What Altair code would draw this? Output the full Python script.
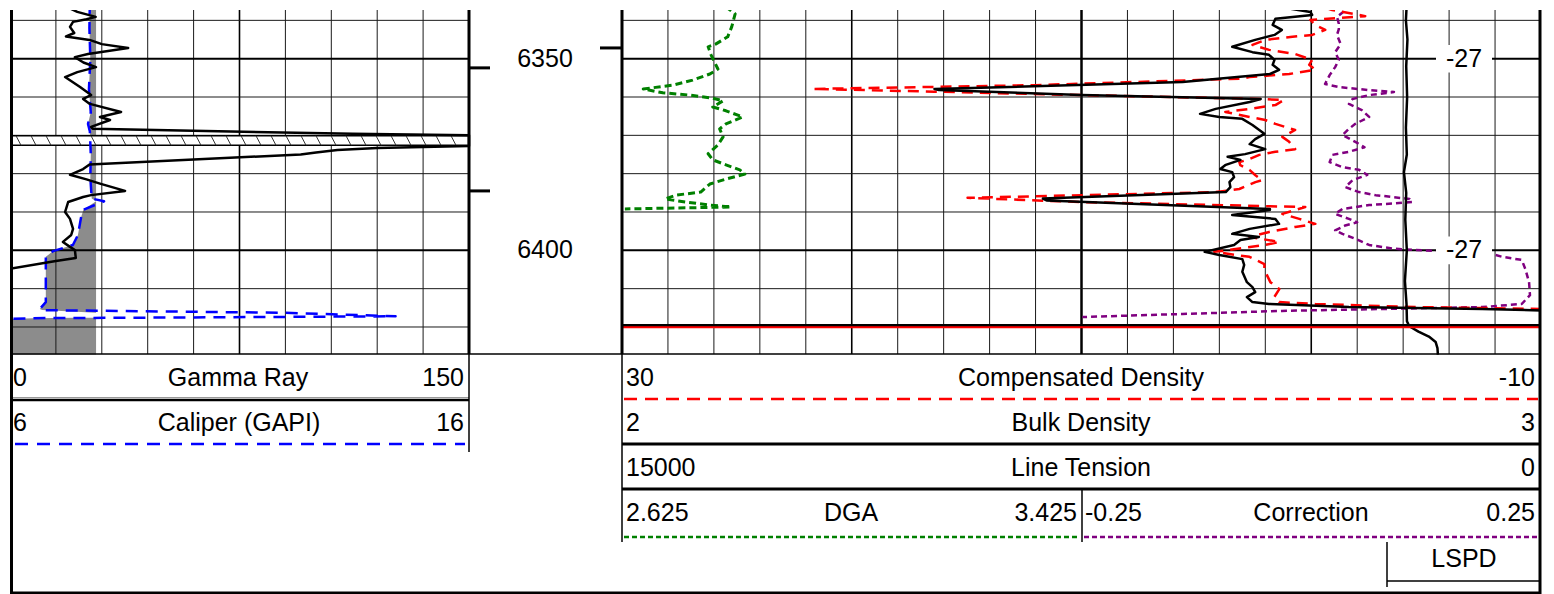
import altair as alt
import pandas as pd

# ---------------- curve data (depth in ft, value in curve units) ----------------
GR_DEPTH = [6335.2, 6336.5, 6337.8, 6339.1, 6339.7, 6340.4, 6341.7, 6343.3, 6344.2, 6345.1,
            6346.2, 6347.2, 6348.8, 6349.6, 6351.0, 6352.2, 6353.5, 6354.8, 6357.4, 6359.5,
            6360.5, 6361.8, 6363.9, 6365.2, 6366.0, 6367.8, 6368.3, 6369.6, 6370.0, 6372.8,
            6373.3, 6373.8, 6374.5, 6375.0, 6377.6, 6378.8, 6380.3, 6381.5, 6382.6, 6384.5,
            6385.6, 6386.1, 6387.4, 6390.0, 6391.8, 6394.4, 6396.0, 6397.8, 6399.1, 6399.9,
            6402.0, 6402.8, 6404.9]
GR_VALUE = [20.0, 18.6, 22.0, 28.0, 25.0, 20.6, 19.6, 21.0, 18.3, 26.0,
            30.0, 38.6, 25.5, 21.2, 24.0, 28.1, 22.0, 18.0, 22.9, 26.5,
            23.9, 26.1, 36.3, 29.4, 32.7, 26.5, 27.0, 112.0, 150.0, 150.0,
            120.0, 107.0, 100.0, 95.0, 26.0, 23.9, 19.6, 25.0, 29.4, 37.6,
            26.5, 23.9, 19.0, 18.0, 19.6, 20.6, 20.0, 17.3, 19.6, 21.2,
            21.5, 15.0, -0.5]

CAL_DEPTH = [6335.2, 6342.0, 6350.0, 6358.0, 6364.0, 6367.0, 6369.0, 6375.0, 6381.0, 6386.5,
             6387.2, 6389.4, 6391.3, 6396.0, 6398.6, 6400.2, 6401.7, 6413.5, 6415.3, 6415.6,
             6416.3, 6417.2, 6417.5, 6417.7, 6417.9, 6427.2]
CAL_VALUE = [7.74, 7.73, 7.75, 7.72, 7.76, 7.70, 7.74, 7.76, 7.75, 7.78,
             8.05, 7.60, 7.55, 7.48, 7.37, 6.94, 6.78, 6.78, 6.65, 6.70,
             12.0, 14.4, 10.0, 6.5, 5.9, 5.9]
BIT_SIZE = 7.875

RHOB_DEPTH = [6335.2, 6336.5, 6337.8, 6338.6, 6339.6, 6341.2, 6342.5, 6343.8, 6345.1, 6346.9,
              6348.3, 6349.0, 6350.3, 6351.6, 6352.9, 6354.0, 6356.1, 6357.9, 6358.2, 6359.5,
              6360.5, 6361.3, 6363.1, 6364.4, 6365.2, 6365.7, 6367.3, 6369.6, 6371.0, 6372.3,
              6373.6, 6374.9, 6375.6, 6376.4, 6377.7, 6378.8, 6379.6, 6380.9, 6382.2, 6383.5,
              6384.8, 6386.5, 6387.0, 6389.2, 6389.5, 6390.8, 6391.8, 6393.1, 6394.4, 6395.7,
              6396.5, 6397.3, 6398.6, 6400.4, 6401.2, 6402.3, 6403.8, 6405.6, 6408.3, 6409.6,
              6410.9, 6412.2, 6413.5, 6414.0, 6414.8, 6415.3, 6415.8]
RHOB_VALUE = [2.710, 2.715, 2.749, 2.751, 2.711, 2.708, 2.718, 2.710, 2.689, 2.664,
              2.686, 2.704, 2.710, 2.708, 2.715, 2.705, 2.610, 2.340, 2.345, 2.500,
              2.695, 2.683, 2.646, 2.629, 2.650, 2.675, 2.686, 2.699, 2.689, 2.683,
              2.700, 2.678, 2.659, 2.673, 2.657, 2.651, 2.664, 2.666, 2.661, 2.662,
              2.657, 2.458, 2.462, 2.705, 2.705, 2.664, 2.711, 2.715, 2.683, 2.664,
              2.693, 2.673, 2.666, 2.634, 2.650, 2.675, 2.677, 2.675, 2.680, 2.686,
              2.689, 2.680, 2.686, 2.704, 2.791, 2.936, 3.020]

CDEN_DEPTH = [6335.2, 6337.3, 6338.9, 6339.9, 6341.2, 6342.5, 6343.8, 6344.3, 6345.1, 6346.4,
              6347.7, 6348.8, 6350.3, 6351.6, 6352.9, 6354.0, 6354.8, 6355.2, 6356.9, 6357.9,
              6358.6, 6359.5, 6360.5, 6360.8, 6362.1, 6363.1, 6363.9, 6365.2, 6366.0, 6367.0,
              6368.6, 6370.4, 6371.7, 6373.6, 6374.3, 6375.1, 6376.2, 6377.0, 6377.8, 6379.0,
              6380.4, 6381.7, 6382.2, 6384.0, 6384.8, 6386.3, 6387.4, 6388.7, 6390.5, 6391.8,
              6393.1, 6393.9, 6395.2, 6396.5, 6397.8, 6398.6, 6400.4, 6401.7, 6403.6, 6405.1,
              6408.3, 6410.1, 6412.2, 6413.5, 6414.0, 6414.8, 6415.3]
CDEN_VALUE = [0.17, -0.91, -2.35, 0.04, -0.18, -0.61, -0.04, 0.82, 2.00, 2.56,
              1.83, 0.70, -0.04, 0.09, -0.18, 0.96, 2.69, 3.00, 12.0, 21.7,
              16.4, 10.0, 2.22, 1.20, 1.56, 2.69, 3.74, 2.69, 2.00, 1.56,
              0.70, 1.26, 0.96, 0.70, 1.56, 2.26, 2.69, 3.13, 3.09, 2.69,
              2.43, 2.13, 2.43, 3.13, 4.17, 14.96, 10.04, 0.26, 1.26, 0.52,
              -0.18, 0.70, 1.83, 2.69, 1.39, 2.00, 4.22, 2.69, 2.04, 2.04,
              1.78, 1.39, 1.61, 1.39, -0.18, -4.52, -10.2]

TENS_DEPTH = [6335.2, 6340.0, 6345.0, 6352.0, 6360.0, 6368.0, 6375.0, 6379.6, 6385.0, 6392.0,
              6400.0, 6408.0, 6414.0, 6418.5, 6419.8, 6421.2, 6422.5, 6423.9, 6425.5, 6427.2]
TENS_VALUE = [2190, 2205, 2180, 2200, 2185, 2205, 2190, 2237, 2200, 2215,
              2190, 2221, 2195, 2188, 2150, 2000, 1830, 1720, 1690, 1683]

DGA_DEPTH = [6335.2, 6336.5, 6338.3, 6341.7, 6344.3, 6346.2, 6346.9, 6349.0, 6352.7, 6354.0,
             6355.6, 6356.9, 6357.9, 6358.9, 6359.5, 6360.3, 6361.0, 6362.6, 6363.6, 6365.2,
             6367.0, 6368.3, 6370.4, 6372.5, 6374.8, 6376.4, 6377.7, 6379.0, 6380.1, 6381.4,
             6382.7, 6384.8, 6385.6, 6386.6, 6387.4, 6388.2, 6388.7, 6389.2]
DGA_VALUE = [2.788, 2.806, 2.822, 2.816, 2.809, 2.788, 2.775, 2.780, 2.792, 2.778,
             2.748, 2.714, 2.662, 2.696, 2.743, 2.783, 2.801, 2.783, 2.806, 2.835,
             2.806, 2.795, 2.801, 2.792, 2.775, 2.783, 2.806, 2.830, 2.839, 2.806,
             2.778, 2.762, 2.719, 2.700, 2.736, 2.778, 2.815, 2.630]

CORR_DEPTH = [6335.2, 6337.0, 6339.1, 6340.9, 6342.3, 6343.8, 6346.2, 6348.3, 6350.3, 6352.2,
              6354.3, 6356.6, 6357.4, 6358.2, 6358.7, 6359.5, 6360.5, 6361.8, 6363.4, 6365.2,
              6367.0, 6368.3, 6369.9, 6371.7, 6373.1, 6374.3, 6375.1, 6377.0, 6378.3, 6379.0,
              6380.3, 6381.7, 6383.5, 6384.8, 6385.6, 6386.6, 6387.4, 6388.2, 6389.2, 6390.5,
              6391.8, 6392.7, 6393.5, 6394.8, 6395.7, 6397.0, 6398.6, 6399.6, 6399.9, 6400.2,
              6401.0, 6401.7, 6402.5, 6404.9, 6408.3, 6411.7, 6414.0, 6414.8, 6415.3, 6415.8,
              6416.6, 6417.4]
CORR_VALUE = [0.012, 0.039, 0.028, 0.030, 0.030, 0.028, 0.032, 0.026, 0.030, 0.026,
              0.020, 0.015, 0.030, 0.063, 0.090, 0.063, 0.045, 0.041, 0.055, 0.063,
              0.048, 0.041, 0.034, 0.048, 0.058, 0.041, 0.023, 0.020, 0.034, 0.052,
              0.061, 0.045, 0.037, 0.052, 0.070, 0.107, 0.110, 0.063, 0.034, 0.026,
              0.041, 0.050, 0.037, 0.026, 0.034, 0.048, 0.063, 0.091, 0.113, 0.142,
              0.197, 0.208, 0.229, 0.233, 0.237, 0.238, 0.229, 0.186, 0.077, -0.032,
              -0.140, -0.249]

LSPD_DEPTH = [6350, 6400]
LSPD_VALUE = ["-27", "-27"]
DEPTH_LABELS = [6350, 6400]
GRID_DEPTHS = [6340, 6350, 6360, 6370, 6380, 6390, 6400, 6410, 6420]
MAJOR_DEPTHS = [6350, 6400]
BAND_TOP, BAND_BOTTOM = 6370.1, 6372.6
TD_DEPTH = 6419.6
MARK_LEFT_DEPTHS = [6352.4, 6384.5]
MARK_RIGHT_DEPTHS = [6347.2]

# curve scale limits (left, right)
GR_LIM = (0, 150)
CAL_LIM = (6, 16)
CDEN_LIM = (30, -10)
RHOB_LIM = (2, 3)
TENS_LIM = (15000, 0)
DGA_LIM = (2.625, 3.425)
CORR_LIM = (-0.25, 0.25)

# ---------------- layout (page pixels) ----------------
PAGE_L, PAGE_R = 8, 1539
PAGE_T, PAGE_B = 8, 592
W, H = PAGE_R - PAGE_L, PAGE_B - PAGE_T
LT = (8, 467)
DT = (467, 620)
RT = (620, 1539)
RMID = 1079.5
TRACK_BOTTOM = 352
DEPTH_TOP = 6337.3
PX_PER_FT = 3.833
DEPTH_BOT = DEPTH_TOP + H / PX_PER_FT
FONT = "Liberation Sans"
FS = 25


def lin_scale(lim, p0, p1):
    vmin, vmax = lim
    k = (vmax - vmin) / (p1 - p0)
    return alt.Scale(domain=[vmin + (PAGE_L - p0) * k, vmin + (PAGE_R - p0) * k],
                     nice=False, zero=False)


XF = alt.Scale(domain=[PAGE_L, PAGE_R], nice=False, zero=False)
YP = alt.Scale(domain=[PAGE_T, PAGE_B], reverse=True, nice=False, zero=False)
YD = alt.Scale(domain=[DEPTH_TOP, DEPTH_BOT], reverse=True, nice=False, zero=False)


def curve(depths, values, scale, color, width, dash=None):
    df = pd.DataFrame({"d": depths, "v": values, "i": list(range(len(depths)))})
    mk = dict(color=color, strokeWidth=width, clip=True, strokeJoin="round")
    if dash:
        mk["strokeDash"] = dash
    return alt.Chart(df).mark_line(**mk).encode(
        x=alt.X("v:Q", scale=scale, axis=None),
        y=alt.Y("d:Q", scale=YD, axis=None),
        order=alt.Order("i:Q"),
    )


def segs(rows, color, width, dash=None, yscale=YP):
    df = pd.DataFrame(rows, columns=["x", "x2", "y", "y2"])
    mk = dict(color=color, strokeWidth=width)
    if dash:
        mk["strokeDash"] = dash
    return alt.Chart(df).mark_rule(**mk).encode(
        x=alt.X("x:Q", scale=XF, axis=None), x2="x2:Q",
        y=alt.Y("y:Q", scale=yscale, axis=None), y2="y2:Q")


def texts(rows, align, yscale=YP, size=FS):
    df = pd.DataFrame(rows, columns=["x", "y", "t"])
    return alt.Chart(df).mark_text(align=align, baseline="middle", fontSize=size,
                                   font=FONT, color="black").encode(
        x=alt.X("x:Q", scale=XF, axis=None),
        y=alt.Y("y:Q", scale=yscale, axis=None),
        text="t:N")


layers = []

# caliper fill (under the grid) ---------------------------------------------
cal_scale = lin_scale(CAL_LIM, *LT)
cal_df = pd.DataFrame({"d": CAL_DEPTH, "v": CAL_VALUE})
layers.append(
    alt.Chart(cal_df).transform_calculate(
        lo=f"clamp(datum.v, {CAL_LIM[0]}, {BIT_SIZE})", hi=f"{BIT_SIZE}"
    ).mark_area(color="#8c8c8c", orient="horizontal", clip=True, opacity=1).encode(
        x=alt.X("lo:Q", scale=cal_scale, axis=None, stack=None), x2="hi:Q",
        y=alt.Y("d:Q", scale=YD, axis=None))
)

# background grid -------------------------------------------------------
ldiv = (LT[1] - LT[0]) / 10
rdiv = (RT[1] - RT[0]) / 20
minor_v = [(LT[0] + k * ldiv,) * 2 + (PAGE_T, TRACK_BOTTOM) for k in range(1, 10) if k != 5]
minor_v += [(RT[0] + k * rdiv,) * 2 + (PAGE_T, TRACK_BOTTOM) for k in range(1, 20) if k not in (5, 10, 15)]
layers.append(segs(minor_v, "#1a1a1a", 1))
mid_v = [(LT[0] + 5 * ldiv,) * 2 + (PAGE_T, TRACK_BOTTOM)]
mid_v += [(RT[0] + k * rdiv,) * 2 + (PAGE_T, TRACK_BOTTOM) for k in (5, 15)]
layers.append(segs(mid_v, "black", 1.6))
layers.append(segs([(RT[0] + 10 * rdiv,) * 2 + (PAGE_T, TRACK_BOTTOM)], "black", 2.5))

minor_h, major_h = [], []
for d in GRID_DEPTHS:
    tgt = major_h if d in MAJOR_DEPTHS else minor_h
    tgt.append((LT[0], LT[1], d, d))
    tgt.append((RT[0], RT[1], d, d))
layers.append(segs(minor_h, "#1a1a1a", 1, yscale=YD))
layers.append(segs(major_h, "black", 2, yscale=YD))

# hatched band (gamma ray off scale) ---------------------------------------
band_df = pd.DataFrame([(LT[0] + 1, LT[1], BAND_TOP, BAND_BOTTOM)], columns=["x", "x2", "y", "y2"])
layers.append(alt.Chart(band_df).mark_rect(fill="white", stroke="black", strokeWidth=1.5).encode(
    x=alt.X("x:Q", scale=XF, axis=None), x2="x2:Q",
    y=alt.Y("y:Q", scale=YD, axis=None), y2="y2:Q"))
hatch = [(x, x + 5, BAND_TOP, BAND_BOTTOM) for x in range(14, 460, 15)]
layers.append(segs(hatch, "#333333", 1, yscale=YD))

# curves ---------------------------------------------------------------------
layers.append(curve(CAL_DEPTH, CAL_VALUE, cal_scale, "#0000ff", 2.5, [12, 8]))
layers.append(curve(GR_DEPTH, GR_VALUE, lin_scale(GR_LIM, *LT), "black", 2.5))
layers.append(curve(DGA_DEPTH, DGA_VALUE, lin_scale(DGA_LIM, RT[0], RMID), "#008000", 3, [7, 4]))
layers.append(curve(CORR_DEPTH, CORR_VALUE, lin_scale(CORR_LIM, RMID, RT[1]), "#800080", 2.5, [6, 4]))
layers.append(curve(CDEN_DEPTH, CDEN_VALUE, lin_scale(CDEN_LIM, *RT), "#ff0000", 2.5, [11, 7]))
layers.append(curve(RHOB_DEPTH, RHOB_VALUE, lin_scale(RHOB_LIM, *RT), "black", 2.5))
layers.append(curve(TENS_DEPTH, TENS_VALUE, lin_scale(TENS_LIM, *RT), "black", 2.5))

# total depth line ------------------------------------------------------------
layers.append(segs([(RT[0], RT[1], TD_DEPTH, TD_DEPTH)], "black", 3, yscale=YD))
layers.append(segs([(RT[0], RT[1], TD_DEPTH + 0.45, TD_DEPTH + 0.45)], "#ff0000", 2, yscale=YD))

# tick markers ------------------------------------------------------------------
marks = [(DT[0], DT[0] + 21, d, d) for d in MARK_LEFT_DEPTHS] + \
        [(DT[1] - 22, DT[1], d, d) for d in MARK_RIGHT_DEPTHS]
layers.append(segs(marks, "black", 3, yscale=YD))

# LSPD value labels ----------------------------------------------------------------
lspd_df = pd.DataFrame({"d": LSPD_DEPTH, "t": LSPD_VALUE})
layers.append(alt.Chart(lspd_df).transform_calculate(
    x="1434", x2="1490", y="datum.d - 3.6", y2="datum.d + 3.6"
).mark_rect(fill="white").encode(
    x=alt.X("x:Q", scale=XF, axis=None), x2="x2:Q",
    y=alt.Y("y:Q", scale=YD, axis=None), y2="y2:Q"))
layers.append(texts([(1462, d, t) for d, t in zip(LSPD_DEPTH, LSPD_VALUE)], "center", yscale=YD))

# depth labels ------------------------------------------------------------------
layers.append(texts([(543, d, str(d)) for d in DEPTH_LABELS], "center", yscale=YD))

# track borders ----------------------------------------------------------------
layers.append(segs([(DT[0], DT[0], PAGE_T, TRACK_BOTTOM), (DT[1], DT[1], PAGE_T, TRACK_BOTTOM)], "black", 3))
layers.append(segs([(PAGE_L, PAGE_R, TRACK_BOTTOM, TRACK_BOTTOM)], "black", 1.5))

# headers -------------------------------------------------------------------------
header_rows = [
    # (left x, right x, centre x, y, lo, name, hi)
    (11, 462, 236, 376, GR_LIM[0], "Gamma Ray", GR_LIM[1]),
    (11, 462, 237, 421, CAL_LIM[0], "Caliper (GAPI)", CAL_LIM[1]),
    (624, 1533, 1079, 376, CDEN_LIM[0], "Compensated Density", CDEN_LIM[1]),
    (624, 1533, 1079, 421, RHOB_LIM[0], "Bulk Density", RHOB_LIM[1]),
    (624, 1533, 1079, 466, TENS_LIM[0], "Line Tension", TENS_LIM[1]),
    (624, 1075, 849, 511, DGA_LIM[0], "DGA", DGA_LIM[1]),
    (1083, 1533, 1309, 511, CORR_LIM[0], "Correction", CORR_LIM[1]),
]
layers.append(texts([(r[0], r[3], str(r[4])) for r in header_rows], "left"))
layers.append(texts([(r[2], r[3], r[5]) for r in header_rows] + [(1462, 557, "LSPD")], "center"))
layers.append(texts([(r[1], r[3], str(r[6])) for r in header_rows], "right"))

layers.append(segs([(LT[0], LT[1], 395.5, 395.5)], "#999999", 1))
layers.append(segs([(LT[0], LT[1], 398, 398)], "black", 2.5))
layers.append(segs([(LT[1], LT[1], TRACK_BOTTOM, 450), (RT[0], RT[0], TRACK_BOTTOM, 540),
                    (1080, 1080, 488, 540), (1385, 1385, 540, 585)], "black", 1.5))
layers.append(segs([(13, 463, 442, 442)], "#0000ff", 2.5, [13, 9]))
layers.append(segs([(622, 1536, 397, 397)], "#ff0000", 2.5, [13, 8]))
layers.append(segs([(RT[0], RT[1], 442, 442), (RT[0], RT[1], 487, 487)], "black", 3))
layers.append(segs([(622, 1078, 535, 535)], "#008000", 2.5, [5, 3]))
layers.append(segs([(1082, 1537, 535, 535)], "#800080", 2.5, [5, 3]))
layers.append(segs([(1385, RT[1], 579, 579)], "black", 1.5))

# outer frame -----------------------------------------------------------------------
layers.append(segs([(9.5, 9.5, PAGE_T, PAGE_B), (1538, 1538, PAGE_T, PAGE_B)], "black", 3))
layers.append(segs([(PAGE_L, PAGE_R, 590.8, 590.8)], "black", 2.5))

chart = alt.layer(*layers).resolve_scale(x="independent", y="independent").properties(
    width=W, height=H, padding=0, background="white"
).configure_view(stroke=None)

chart.save("out.html", embed_options={"renderer": "svg", "actions": False})
